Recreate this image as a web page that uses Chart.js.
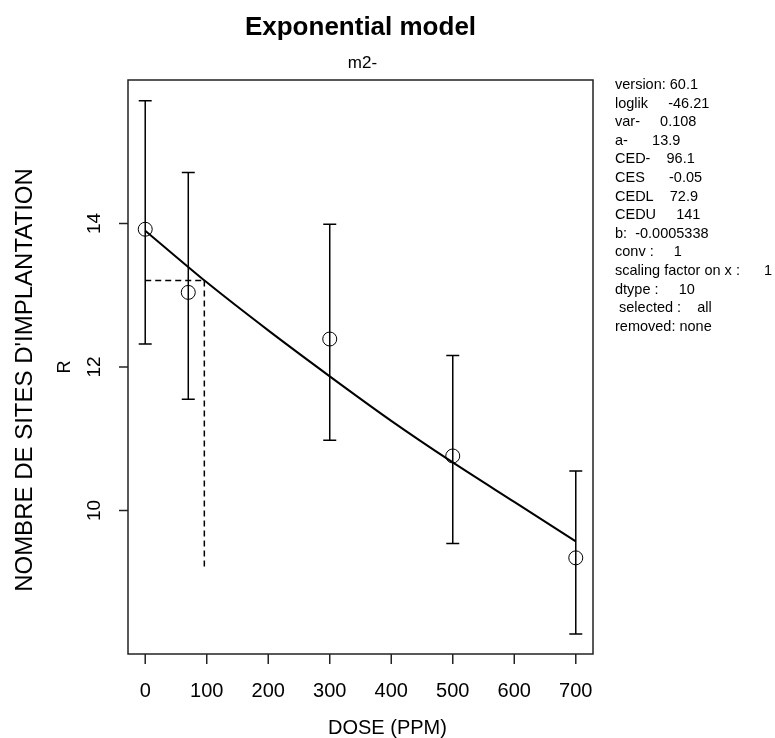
<!DOCTYPE html>
<html lang="fr">
<head>
  <meta charset="UTF-8">
  <title>Exponential model</title>
  <script src="https://cdn.jsdelivr.net/npm/chart.js"></script>
  <style>
    body { margin: 0; background: #ffffff; }
    canvas { display: block; }
  </style>
</head>
<body>
  <canvas id="expChart" width="775" height="738"></canvas>

  <script>
    // Observed data (mean and error bar limits per dose group)
    const doses = [0, 70, 300, 500, 700];
    const means = [13.92, 13.04, 12.39, 10.76, 9.34];
    const upper = [15.71, 14.71, 13.99, 12.16, 10.55];
    const lower = [12.32, 11.55, 10.98, 9.54, 8.28];

    // Fitted curve
    const curveDose = [0, 100, 200, 300, 400, 500, 600, 700];
    const curveResp = [13.90, 13.18, 12.51, 11.87, 11.25, 10.67, 10.12, 9.57];

    // CED marker (dashed lines)
    const cedDose = 96.1;
    const cesResp = 13.205;
    const cedLineBottom = 9.2;

    // Axis ticks
    const xTicks = [0, 100, 200, 300, 400, 500, 600, 700];
    const yTicks = [10, 12, 14];

    // Text block on the right
    const infoLines = [
      'version: 60.1',
      'loglik     -46.21',
      'var-     0.108',
      'a-      13.9',
      'CED-    96.1',
      'CES      -0.05',
      'CEDL    72.9',
      'CEDU     141',
      'b:  -0.0005338',
      'conv :     1',
      'scaling factor on x :      1',
      'dtype :     10',
      ' selected :    all',
      'removed: none'
    ];

    const FONT = '"Liberation Sans", Arial, sans-serif';

    // draws box, ticks, labels, error bars and the text panel (R style)
    const rPlotPlugin = {
      id: 'rPlot',
      beforeDraw(chart) {
        const ctx = chart.ctx;
        ctx.save();
        ctx.fillStyle = '#ffffff';
        ctx.fillRect(0, 0, chart.width, chart.height);
        ctx.restore();
      },
      afterDatasetsDraw(chart) {
        const ctx = chart.ctx;
        const xs = chart.scales.x;
        const ys = chart.scales.y;
        const area = chart.chartArea;

        ctx.save();
        ctx.strokeStyle = '#000';
        ctx.lineWidth = 1.5;
        // error bars
        doses.forEach((d, i) => {
          const px = xs.getPixelForValue(d);
          const top = ys.getPixelForValue(upper[i]);
          const bot = ys.getPixelForValue(lower[i]);
          ctx.beginPath();
          ctx.moveTo(px, top);
          ctx.lineTo(px, bot);
          ctx.moveTo(px - 6.5, top);
          ctx.lineTo(px + 6.5, top);
          ctx.moveTo(px - 6.5, bot);
          ctx.lineTo(px + 6.5, bot);
          ctx.stroke();
        });

        // box
        ctx.strokeStyle = '#222';
        ctx.strokeRect(area.left, area.top, area.right - area.left, area.bottom - area.top);

        // x ticks + labels
        ctx.fillStyle = '#000';
        ctx.font = '20px ' + FONT;
        ctx.textAlign = 'center';
        ctx.textBaseline = 'alphabetic';
        xTicks.forEach(t => {
          const px = xs.getPixelForValue(t);
          ctx.beginPath();
          ctx.moveTo(px, area.bottom);
          ctx.lineTo(px, area.bottom + 10);
          ctx.stroke();
          ctx.fillText(String(t), px, 697);
        });

        // y ticks + rotated labels
        yTicks.forEach(t => {
          const py = ys.getPixelForValue(t);
          ctx.beginPath();
          ctx.moveTo(area.left, py);
          ctx.lineTo(area.left - 9, py);
          ctx.stroke();
          ctx.save();
          ctx.translate(100, py);
          ctx.rotate(-Math.PI / 2);
          ctx.font = '19px ' + FONT;
          ctx.fillText(String(t), 0, 0);
          ctx.restore();
        });

        // titles
        const cx = (area.left + area.right) / 2;
        ctx.font = 'bold 26px ' + FONT;
        ctx.fillText('Exponential model', cx, 35);
        ctx.font = '17px ' + FONT;
        ctx.fillText('m2-', cx + 2, 68);

        ctx.font = '20px ' + FONT;
        ctx.textAlign = 'left';
        ctx.fillText('DOSE (PPM)', 328, 734);

        ctx.textAlign = 'center';
        ctx.save();
        ctx.translate(70, (area.top + area.bottom) / 2);
        ctx.rotate(-Math.PI / 2);
        ctx.font = '18px ' + FONT;
        ctx.fillText('R', 0, 0);
        ctx.restore();

        ctx.save();
        ctx.translate(32, 380);
        ctx.rotate(-Math.PI / 2);
        ctx.font = '24px ' + FONT;
        ctx.fillText("NOMBRE DE SITES D'IMPLANTATION", 0, 0);
        ctx.restore();

        // info panel
        ctx.textAlign = 'left';
        ctx.font = '14.5px ' + FONT;
        infoLines.forEach((line, i) => {
          ctx.fillText(line, 615, 89 + i * 18.6);
        });
        ctx.restore();
      }
    };

    const ctx = document.getElementById('expChart').getContext('2d');
    new Chart(ctx, {
      type: 'scatter',
      data: {
        datasets: [
          {
            label: 'model',
            type: 'line',
            data: curveDose.map((d, i) => ({ x: d, y: curveResp[i] })),
            borderColor: '#000',
            borderWidth: 2,
            pointRadius: 0,
            tension: 0.3,
            fill: false
          },
          {
            label: 'CES',
            type: 'line',
            data: [{ x: 0, y: cesResp }, { x: cedDose, y: cesResp }],
            borderColor: '#000',
            borderWidth: 1.5,
            borderDash: [6, 4],
            pointRadius: 0,
            fill: false
          },
          {
            label: 'CED',
            type: 'line',
            data: [{ x: cedDose, y: cesResp }, { x: cedDose, y: cedLineBottom }],
            borderColor: '#000',
            borderWidth: 1.5,
            borderDash: [6, 4],
            pointRadius: 0,
            fill: false
          },
          {
            label: 'means',
            data: doses.map((d, i) => ({ x: d, y: means[i] })),
            pointStyle: 'circle',
            pointRadius: 7,
            pointHoverRadius: 7,
            backgroundColor: 'rgba(0,0,0,0)',
            borderColor: '#000',
            borderWidth: 1
          }
        ]
      },
      options: {
        responsive: false,
        devicePixelRatio: 1,
        animation: false,
        layout: { padding: { left: 128, right: 182, top: 80, bottom: 84 } },
        plugins: {
          legend: { display: false },
          tooltip: { enabled: false },
          title: { display: false }
        },
        scales: {
          x: { type: 'linear', min: -28, max: 728, display: false },
          y: { type: 'linear', min: 8.0, max: 16.0, display: false }
        }
      },
      plugins: [rPlotPlugin]
    });
  </script>
</body>
</html>
